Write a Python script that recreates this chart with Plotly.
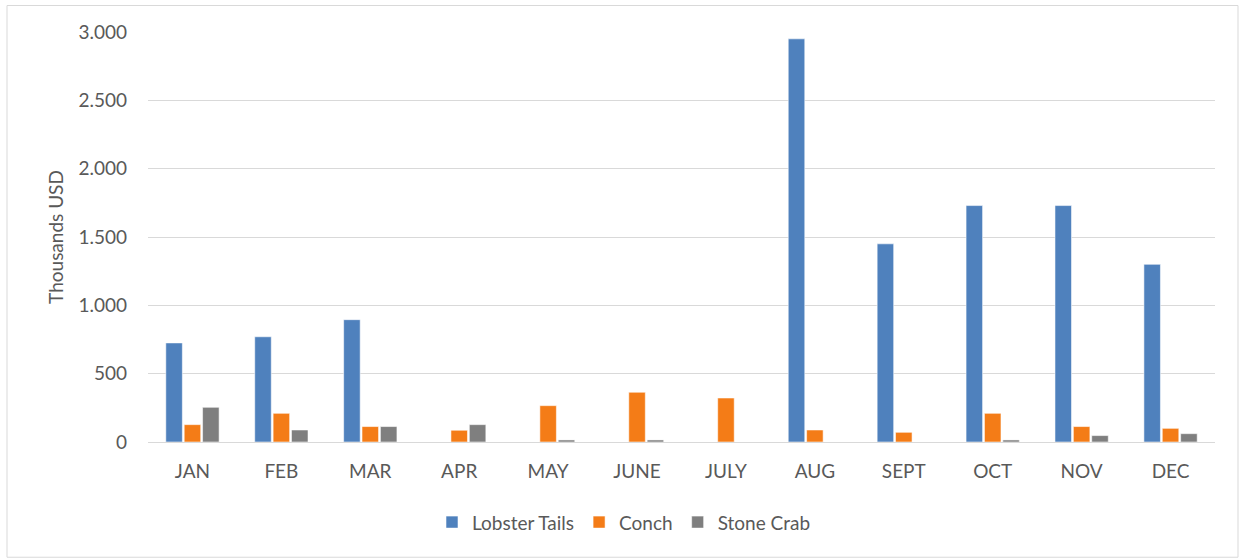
import plotly.graph_objects as go

months = ["JAN", "FEB", "MAR", "APR", "MAY", "JUNE", "JULY", "AUG", "SEPT", "OCT", "NOV", "DEC"]
lobster_tails = [725, 770, 895, 0, 0, 0, 0, 2950, 1450, 1730, 1730, 1300]
conch = [127, 210, 113, 86, 266, 364, 322, 88, 71, 210, 113, 100]
stone_crab = [254, 88, 113, 127, 15, 15, 0, 0, 0, 15, 47, 61]

y_ticks = [0, 500, 1000, 1500, 2000, 2500, 3000]
y_tick_text = ["0", "500", "1.000", "1.500", "2.000", "2.500", "3.000"]

FONT = "Lato"
TEXT_GRAY = "#595959"

fig = go.Figure()
for name, vals, color in [
    ("Lobster Tails", lobster_tails, "#4F81BD"),
    ("Conch", conch, "#F47C17"),
    ("Stone Crab", stone_crab, "#7F7F7F"),
]:
    fig.add_trace(go.Bar(
        x=months, y=vals, name=name,
        marker=dict(color=color, line=dict(color="rgba(255,255,255,0.55)", width=1)),
    ))

# plot area in pixels: left 148, right 1215, top 31.5, bottom 441.7
W, H = 1243, 559
L, R, T, B = 148, 1215, 31.5, 441.7
pw, ph = R - L, B - T

def px_x(x):
    return (x - L) / pw

def px_y(y):
    return (B - y) / ph

fig.update_layout(
    width=W, height=H,
    margin=dict(l=L, r=W - R, t=T, b=H - B, pad=0),
    paper_bgcolor="white", plot_bgcolor="white",
    barmode="group", bargap=0.38, bargroupgap=0.1,
    font=dict(family=FONT, size=19, color=TEXT_GRAY),
    showlegend=True,
    legend=dict(
        orientation="h", x=px_x(624), xanchor="center",
        y=px_y(522), yanchor="middle",
        font=dict(family=FONT, size=19, color=TEXT_GRAY),
        itemwidth=30, traceorder="normal",
    ),
    xaxis=dict(
        showgrid=False, showline=False, zeroline=False,
        ticks="", ticklabelstandoff=16,
        tickfont=dict(family=FONT, size=19, color=TEXT_GRAY),
    ),
    yaxis=dict(
        range=[0, 3000], tickvals=y_ticks, ticktext=y_tick_text,
        showgrid=True, gridcolor="#D9D9D9", gridwidth=1.3,
        zeroline=True, zerolinecolor="#D9D9D9", zerolinewidth=1.3,
        showline=False, ticks="", ticklabelstandoff=20,
        tickfont=dict(family=FONT, size=19, color=TEXT_GRAY),
        title=dict(text="Thousands USD", standoff=9,
                   font=dict(family=FONT, size=19, color=TEXT_GRAY)),
    ),
    shapes=[dict(
        type="rect", xref="paper", yref="paper",
        x0=px_x(7), x1=px_x(1238), y0=px_y(557), y1=px_y(5),
        line=dict(color="#D9D9D9", width=1), fillcolor="rgba(0,0,0,0)",
        layer="below",
    )],
)

fig.write_html("out.html")
